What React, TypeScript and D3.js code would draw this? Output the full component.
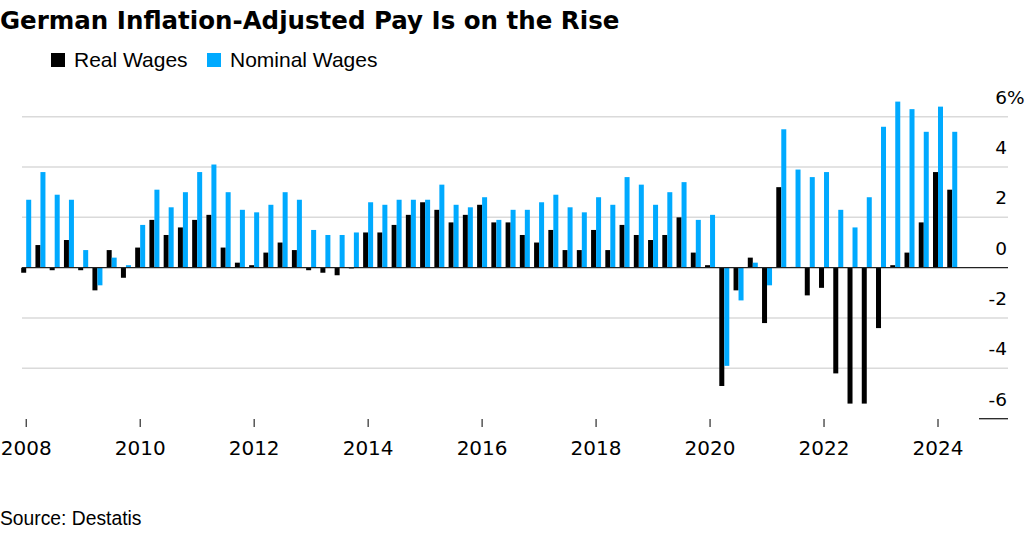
import React, { useEffect, useRef } from 'react';
import * as d3 from 'd3';

// quarterly data, 2008 Q1 .. 2024 Q2
const startYear = 2008;
const realWages = [
  -0.2, 0.9, -0.1, 1.1,
  -0.1, -0.9, 0.7, -0.4,
  0.8, 1.9, 1.3, 1.6,
  1.9, 2.1, 0.8, 0.2,
  0.1, 0.6, 1.0, 0.7,
  -0.1, -0.2, -0.3, -0.03,
  1.4, 1.4, 1.7, 2.1,
  2.6, 2.3, 1.8, 2.1,
  2.5, 1.8, 1.8, 1.3,
  1.0, 1.5, 0.7, 0.7,
  1.5, 0.7, 1.7, 1.3,
  1.1, 1.3, 2.0, 0.6,
  0.1, -4.7, -0.9, 0.4,
  -2.2, 3.2, 0.03, -1.1,
  -0.8, -4.2, -5.4, -5.4,
  -2.4, 0.1, 0.6, 1.8,
  3.8, 3.1,
];
const nominalWages = [
  2.7, 3.8, 2.9, 2.7,
  0.7, -0.7, 0.4, 0.1,
  1.7, 3.1, 2.4, 3.0,
  3.8, 4.1, 3.0, 2.3,
  2.2, 2.5, 3.0, 2.7,
  1.5, 1.3, 1.3, 1.4,
  2.6, 2.5, 2.7, 2.7,
  2.7, 3.3, 2.5, 2.4,
  2.8, 1.9, 2.3, 2.3,
  2.6, 2.9, 2.4, 2.2,
  2.8, 2.5, 3.6, 3.3,
  2.5, 3.0, 3.4, 1.9,
  2.1, -3.9, -1.3, 0.2,
  -0.7, 5.5, 3.9, 3.6,
  3.8, 2.3, 1.6, 2.8,
  5.6, 6.6, 6.3, 5.4,
  6.4, 5.4,
];
const yearTicks = [2008, 2010, 2012, 2014, 2016, 2018, 2020, 2022, 2024];
const yTicks = [6, 4, 2, 0, -2, -4, -6];

const REAL = '#000000';
const NOMINAL = '#00aaff';

const App = () => {
  const svgRef = useRef<SVGSVGElement | null>(null);

  useEffect(() => {
    document.body.style.margin = '0';
    if (!svgRef.current) return;
    const svg = d3.select(svgRef.current);
    svg.selectAll('*').remove();

    const width = 1026;
    const plotLeft = 22;
    const plotRight = 1008;

    const x = d3.scaleLinear().domain([2008, 2024]).range([26.2, 938]);
    const y = d3.scaleLinear().domain([0, 6]).range([267.7, 116.7]);
    const barW = 5;

    const quarters = realWages.map((_, i) => startYear + i / 4);

    // title
    svg.append('text')
      .attr('x', 0)
      .attr('y', 29)
      .attr('font-family', 'DejaVu Sans')
      .attr('font-weight', 'bold')
      .attr('font-size', '24.5px')
      .attr('fill', '#000')
      .text('German Inflation-Adjusted Pay Is on the Rise');

    // legend
    const legend = [
      { label: 'Real Wages', color: REAL, x: 51 },
      { label: 'Nominal Wages', color: NOMINAL, x: 207 },
    ];
    legend.forEach(l => {
      svg.append('rect')
        .attr('x', l.x).attr('y', 53)
        .attr('width', 14).attr('height', 14)
        .attr('fill', l.color);
      svg.append('text')
        .attr('x', l.x + 23)
        .attr('y', 67)
        .attr('font-family', 'Liberation Sans, Arial, sans-serif')
        .attr('font-size', '21px')
        .attr('fill', '#000')
        .text(l.label);
    });

    // gridlines
    svg.selectAll('.grid')
      .data(yTicks.filter(d => d !== 0 && d !== -6))
      .enter()
      .append('line')
      .attr('class', 'grid')
      .attr('x1', plotLeft).attr('x2', plotRight)
      .attr('y1', d => y(d)).attr('y2', d => y(d))
      .attr('stroke', '#dadada')
      .attr('stroke-width', 1.5);

    // bottom stub
    svg.append('line')
      .attr('x1', 979).attr('x2', plotRight)
      .attr('y1', y(-6)).attr('y2', y(-6))
      .attr('stroke', '#222')
      .attr('stroke-width', 1.3);

    // y labels
    svg.selectAll('.ylab')
      .data(yTicks)
      .enter()
      .append('text')
      .attr('class', 'ylab')
      .attr('x', 1007)
      .attr('y', d => y(d) - 13)
      .attr('text-anchor', 'end')
      .attr('font-family', 'DejaVu Sans')
      .attr('font-size', '18.5px')
      .attr('fill', '#000')
      .text(d => String(d));
    svg.append('text')
      .attr('x', 1007)
      .attr('y', y(6) - 13)
      .attr('font-family', 'DejaVu Sans')
      .attr('font-size', '18.5px')
      .attr('fill', '#000')
      .text('%');

    // bars
    svg.selectAll('.real')
      .data(realWages)
      .enter()
      .append('rect')
      .attr('class', 'real')
      .attr('x', (_, i) => x(quarters[i]) - barW)
      .attr('width', barW)
      .attr('y', d => y(Math.max(0, d)))
      .attr('height', d => Math.abs(y(d) - y(0)))
      .attr('fill', REAL);

    svg.selectAll('.nominal')
      .data(nominalWages)
      .enter()
      .append('rect')
      .attr('class', 'nominal')
      .attr('x', (_, i) => x(quarters[i]))
      .attr('width', barW)
      .attr('y', d => y(Math.max(0, d)))
      .attr('height', d => Math.abs(y(d) - y(0)))
      .attr('fill', NOMINAL);

    // zero line
    svg.append('line')
      .attr('x1', plotLeft).attr('x2', plotRight)
      .attr('y1', y(0)).attr('y2', y(0))
      .attr('stroke', '#222')
      .attr('stroke-width', 1.3);

    // x axis ticks + labels
    svg.selectAll('.xtick')
      .data(yearTicks)
      .enter()
      .append('line')
      .attr('class', 'xtick')
      .attr('x1', d => x(d)).attr('x2', d => x(d))
      .attr('y1', 419).attr('y2', 427)
      .attr('stroke', '#000')
      .attr('stroke-width', 1);

    svg.selectAll('.xlab')
      .data(yearTicks)
      .enter()
      .append('text')
      .attr('class', 'xlab')
      .attr('x', d => x(d))
      .attr('y', 455)
      .attr('text-anchor', 'middle')
      .attr('font-family', 'DejaVu Sans')
      .attr('font-size', '20px')
      .attr('fill', '#000')
      .text(d => String(d));

    // source
    svg.append('text')
      .attr('x', 0)
      .attr('y', 525)
      .attr('font-family', 'Liberation Sans, Arial, sans-serif')
      .attr('font-size', '19.3px')
      .attr('fill', '#000')
      .text('Source: Destatis');

    svg.attr('width', width).attr('height', 537);
  }, []);

  return (
    <svg ref={svgRef} width={1026} height={537} style={{ display: 'block', background: '#fff' }}></svg>
  );
};

export default App;
